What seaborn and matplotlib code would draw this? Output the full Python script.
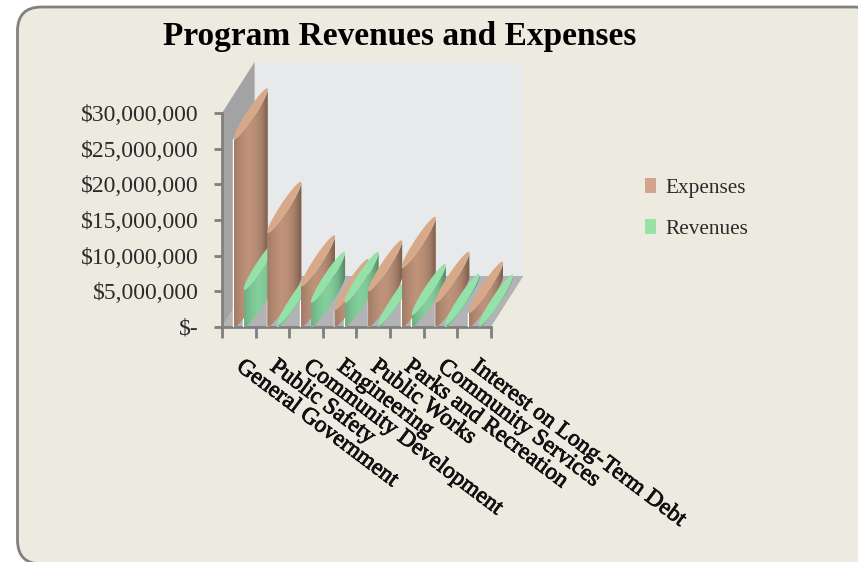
import numpy as np
import pandas as pd
import matplotlib
matplotlib.use("Agg")
import matplotlib.pyplot as plt
import matplotlib.patheffects as pe
from matplotlib.patches import FancyBboxPatch, Polygon
from matplotlib.transforms import Affine2D
from matplotlib.colors import to_rgb
import seaborn as sns

programs = ["General Government", "Public Safety", "Community Development",
            "Engineering", "Public Works", "Parks and Recreation",
            "Community Services", "Interest on Long-Term Debt"]
expenses = [26.3e6, 13.2e6, 5.7e6, 2.4e6, 5.0e6, 8.3e6, 3.4e6, 2.0e6]
revenues = [5.2e6, 0.3e6, 3.4e6, 3.4e6, 0.2e6, 1.7e6, 0.3e6, 0.2e6]
y_ticks = [0, 5e6, 10e6, 15e6, 20e6, 25e6, 30e6]
y_labels = ["$-", "$5,000,000", "$10,000,000", "$15,000,000",
            "$20,000,000", "$25,000,000", "$30,000,000"]

W, H = 858, 562
SERIF = "Liberation Serif"
sns.set_theme(style="white")
plt.rcParams["font.family"] = [SERIF, "DejaVu Serif"]

fig = plt.figure(figsize=(W / 100, H / 100), dpi=100, facecolor="white")

# Card behind the chart, laid out in pixels from the top-left corner
px = Affine2D().scale(1, -1).translate(0, H)
fig.add_artist(FancyBboxPatch((17.5, 7), 860, 557,
                              boxstyle="round,pad=0,rounding_size=24",
                              transform=px, facecolor="#EDEAE0",
                              edgecolor="#808080", linewidth=2.0, zorder=-1))

# Axes: the front plane of the 3-D box; extra room holds the receding depth
PX_PER_CAT = 33.6
PX_PER_UNIT = 214 / 30e6
LEFT, BASE, TOP = 222, 327, 58
ax = fig.add_axes([LEFT / W, 1 - BASE / H, 9.2 * PX_PER_CAT / W, (BASE - TOP) / H])
ax.patch.set_alpha(0)

frame = pd.DataFrame({
    "program": programs * 2,
    "amount": expenses + revenues,
    "series": ["Expenses"] * len(programs) + ["Revenues"] * len(programs),
})
palette = {"Expenses": "#D1A48B", "Revenues": "#98E2A8"}
sns.barplot(data=frame, x="program", y="amount", hue="series", palette=palette,
            width=0.6, gap=0.9, saturation=1, errorbar=None, ax=ax, zorder=3)

x_min, x_max = -0.5, len(programs) - 0.5
y_max = (BASE - TOP) / PX_PER_UNIT
ax.set_xlim(x_min, x_min + 9.2)
ax.set_ylim(0, y_max)

# Receding direction of the box, in data units
DX = 0.97
DY = 7.15e6

# Walls and floor
side = [(x_min, 0), (x_min, 30e6), (x_min + DX, 30e6 + DY), (x_min + DX, DY)]
floor = [(x_min, 0), (x_max, 0), (x_max + DX, DY), (x_min + DX, DY)]
back = [(x_min + DX, DY), (x_max + DX, DY), (x_max + DX, 30e6 + DY), (x_min + DX, 30e6 + DY)]
ax.add_patch(Polygon(back, facecolor="#E8E9EA", edgecolor="none", zorder=1))
ax.add_patch(Polygon(side, facecolor="#A3A3A5", edgecolor="none", zorder=1.1))
ax.add_patch(Polygon(floor, facecolor="#B3B3B5", edgecolor="none", zorder=1.2))


def shaded(face):
    """Horizontal cylinder shading built from the series colour."""
    base = np.array(to_rgb(face))
    stops = np.array([0.84, 0.94, 1.0, 0.97, 0.86, 0.62])
    samples = np.interp(np.linspace(0, 1, 64), np.linspace(0, 1, len(stops)), stops)
    return np.clip(samples[None, :, None] * base[None, None, :], 0, 1)


def draw_cylinder(x_front, value, face, lid, z):
    half_w = 0.15
    a, b = DX / 2, DY / 2
    cx = x_front + 0.52
    t_right = np.arctan2(a, half_w)
    t = np.linspace(t_right - np.pi, t_right, 60)
    ex = half_w * np.cos(t) + a * np.sin(t)
    ey = b * np.sin(t)
    base_pts = np.column_stack([cx + ex, b + ey])
    top_pts = np.column_stack([cx + ex, value + b + ey])
    body = Polygon(np.vstack([base_pts, top_pts[::-1]]), transform=ax.transData,
                   facecolor="none", edgecolor="none")
    ax.add_patch(body)
    image = ax.imshow(shaded(face), aspect="auto", zorder=z,
                      extent=(ex.min() + cx, ex.max() + cx,
                              0, value + 2 * b), interpolation="bilinear")
    image.set_clip_path(body)
    tt = np.linspace(0, 2 * np.pi, 120)
    lid_pts = np.column_stack([cx + half_w * np.cos(tt) + a * np.sin(tt),
                               value + b + b * np.sin(tt)])
    ax.add_patch(Polygon(lid_pts, facecolor=lid, edgecolor="none", zorder=z + 0.01))


series_bars = [(ax.containers[0], "#C0937A", "#D8A988"),
               (ax.containers[1], "#84D09C", "#94E2AA")]
for i in range(len(programs)):
    for j, (container, face, lid) in enumerate(series_bars):
        bar = container[i]
        draw_cylinder(bar.get_x(), bar.get_height(), face, lid, 4 + i + j * 0.1)

ax.set_xlim(x_min, x_min + 9.2)
ax.set_ylim(0, y_max)

# Axis lines and ticks
for name in ["top", "right"]:
    ax.spines[name].set_visible(False)
for name in ["left", "bottom"]:
    ax.spines[name].set_color("#7F7F7F")
    ax.spines[name].set_linewidth(2)
    ax.spines[name].set_zorder(2)
ax.spines["left"].set_bounds(0, 30e6)
ax.spines["bottom"].set_bounds(x_min, x_max)

ax.set_xlabel("")
ax.set_ylabel("")
ax.set_yticks(y_ticks, y_labels)
ax.tick_params(axis="y", length=6, width=2, color="#7F7F7F", pad=10.8,
               labelsize=17, labelcolor="#2B2B2B", left=True)
ax.set_xticks(np.arange(x_min, x_max + 0.5), [""] * (len(programs) + 1))
ax.tick_params(axis="x", which="major", length=8, width=2, color="#7F7F7F", bottom=True)
ax.set_xticks(np.arange(len(programs)), programs, minor=True)
ax.tick_params(axis="x", which="minor", length=0, pad=27, labelsize=16.8, labelcolor="#111111")
for label in ax.get_xticklabels(minor=True):
    label.set(rotation=-37, rotation_mode="anchor", ha="left", va="center",
              path_effects=[pe.withStroke(linewidth=0.6, foreground="#111111")])

# Legend beside the plot
handles, labels = ax.get_legend_handles_labels()
for handle in handles:
    handle.set_edgecolor("none")
ax.legend(handles, labels, frameon=False, loc="center left",
          bbox_to_anchor=(626 / W, 1 - 208.5 / H), bbox_transform=fig.transFigure,
          fontsize=15.3, handlelength=0.52, handleheight=0.7, handletextpad=0.42,
          labelspacing=1.02, labelcolor="#2B2B2B")

fig.text(399.5 / W, 1 - 36 / H, "Program Revenues and Expenses", ha="center", va="center",
         fontsize=24, fontweight="bold", color="#000000")

fig.savefig("out.png", dpi=100)
